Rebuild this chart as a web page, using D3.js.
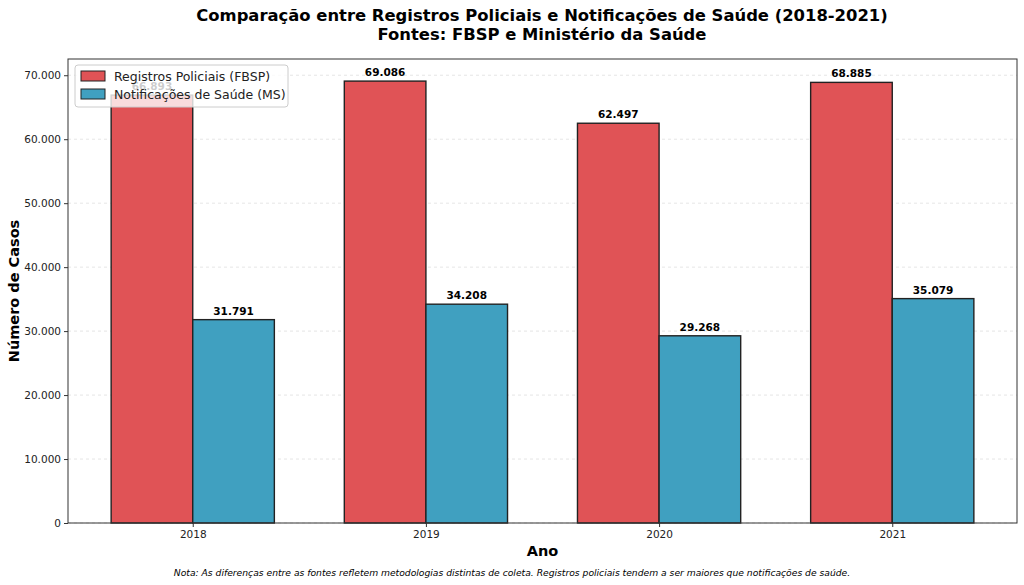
<!DOCTYPE html>
<html><head><meta charset="utf-8">
<script src="https://cdn.jsdelivr.net/npm/d3@7"></script>
<style>body{margin:0;background:#fff}svg{display:block;font-family:"DejaVu Sans",sans-serif}</style>
</head><body><svg id="c" width="1024" height="585"></svg>
<script>
const years = ["2018","2019","2020","2021"];
const policia = [66893, 69086, 62497, 68885];
const saude = [31791, 34208, 29268, 35079];
const seriesNames = ["Registros Policiais (FBSP)", "Notificações de Saúde (MS)"];
const yTicks = [0,10000,20000,30000,40000,50000,60000,70000];
const colors = ["#e05356", "#40a0c0"];

const loc = d3.formatLocale({decimal:",", thousands:".", grouping:[3], currency:["",""]});
const fmt = loc.format(",d");

const svg = d3.select("#c");
const L=68, R=1017, T=59, B=523;
const x = d3.scaleLinear().domain([-0.535, 3.535]).range([L, R]);
const y = d3.scaleLinear().domain([0, d3.max(policia)*1.05]).range([B, T]);
const bw = 0.35;

// grid
svg.append("g").selectAll("line").data(yTicks).join("line")
  .attr("x1",L).attr("x2",R).attr("y1",d=>y(d)).attr("y2",d=>y(d))
  .attr("stroke","#c8c8c8").attr("stroke-opacity",0.6).attr("stroke-dasharray","3,3").attr("stroke-width",0.8);

const series = [policia, saude];
series.forEach((vals, si) => {
  const off = si===0 ? -bw/2 : bw/2;
  svg.append("g").selectAll("rect").data(vals).join("rect")
    .attr("x", (d,i)=>x(i+off-bw/2))
    .attr("width", x(bw)-x(0))
    .attr("y", d=>y(d)).attr("height", d=>B-y(d))
    .attr("fill", colors[si]).attr("stroke","#222").attr("stroke-width",1.4);
  svg.append("g").selectAll("text").data(vals).join("text")
    .attr("x",(d,i)=>x(i+off)).attr("y",d=>y(d)-5)
    .attr("text-anchor","middle").attr("font-size",10.5).attr("font-weight","bold").attr("fill","#000")
    .text(d=>fmt(d));
});

// axes
const ya = svg.append("g").attr("transform",`translate(${L},0)`)
  .call(d3.axisLeft(y).tickValues(yTicks).tickFormat(fmt).tickSize(4).tickPadding(3));
const xa = svg.append("g").attr("transform",`translate(0,${B})`)
  .call(d3.axisBottom(x).tickValues([0,1,2,3]).tickFormat(i=>years[i]).tickSize(4).tickPadding(4));
[ya,xa].forEach(a=>{a.select(".domain").remove();a.selectAll("text").attr("font-size",10.5).attr("fill","#222").attr("font-family","DejaVu Sans");a.selectAll("line").attr("stroke","#333");});
svg.append("rect").attr("x",L).attr("y",T).attr("width",R-L).attr("height",B-T)
  .attr("fill","none").attr("stroke","#333").attr("stroke-width",1);

// legend
const lg = svg.append("g").attr("transform","translate(75,65)");
lg.append("rect").attr("width",213).attr("height",42).attr("rx",3)
  .attr("fill","#fff").attr("fill-opacity",0.8).attr("stroke","#ccc");
seriesNames.forEach((n,i)=>{
  lg.append("rect").attr("x",6).attr("y",6+i*18).attr("width",24).attr("height",10)
    .attr("fill",colors[i]).attr("stroke","#222").attr("stroke-width",1);
  lg.append("text").attr("x",39).attr("y",15.5+i*18).attr("font-size",12.5).attr("fill","#222").text(n);
});

// titles
svg.append("text").attr("x",542).attr("y",21).attr("text-anchor","middle").attr("font-size",16.4).attr("font-weight","bold")
  .text("Comparação entre Registros Policiais e Notificações de Saúde (2018-2021)");
svg.append("text").attr("x",542).attr("y",40).attr("text-anchor","middle").attr("font-size",16.4).attr("font-weight","bold")
  .text("Fontes: FBSP e Ministério da Saúde");
svg.append("text").attr("x",(L+R)/2).attr("y",556).attr("text-anchor","middle").attr("font-size",14.5).attr("font-weight","bold").text("Ano");
svg.append("text").attr("transform",`translate(19,${(T+B)/2}) rotate(-90)`).attr("text-anchor","middle").attr("font-size",14.5).attr("font-weight","bold").text("Número de Casos");
svg.append("text").attr("x",512).attr("y",576).attr("text-anchor","middle").attr("font-size",9.2).attr("font-style","italic")
  .text("Nota: As diferenças entre as fontes refletem metodologias distintas de coleta. Registros policiais tendem a ser maiores que notificações de saúde.");
</script></body></html>
